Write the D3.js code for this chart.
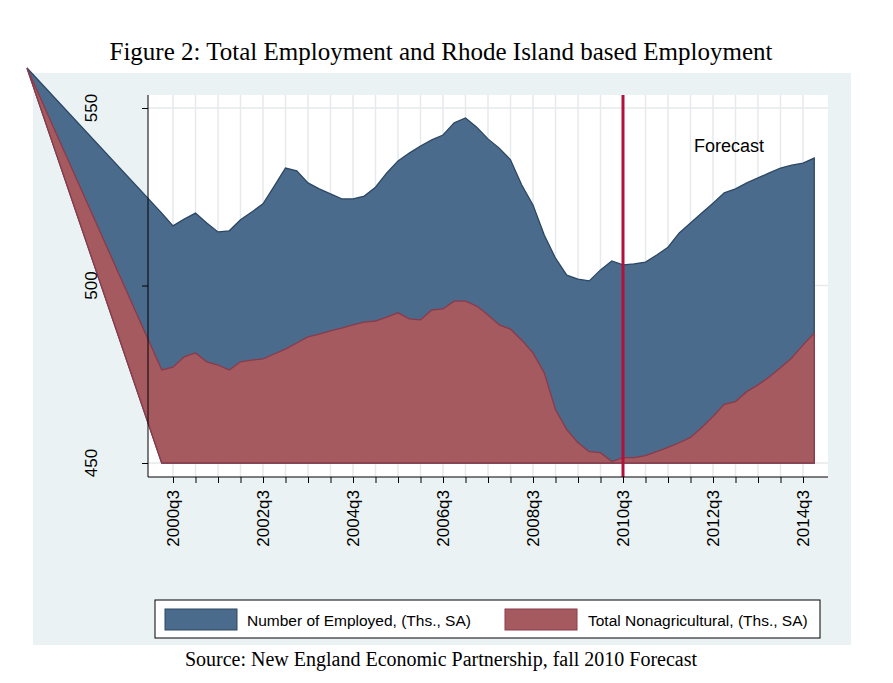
<!DOCTYPE html>
<html><head><meta charset="utf-8">
<script src="https://cdn.jsdelivr.net/npm/d3@7"></script>
<style>body{margin:0;background:#fff}</style></head>
<body><svg id="c" width="893" height="683"></svg>
<script>
const startYear = 2000, startQ = 2;
const employed = [520.4,516.8,518.7,520.4,517.6,515.1,515.4,518.5,520.7,523.0,528.0,533.1,532.3,528.9,527.2,525.8,524.4,524.4,525.2,527.7,531.7,535.1,537.3,539.3,541.0,542.4,545.8,547.2,544.6,541.3,538.7,535.4,528.3,522.7,514.2,507.7,502.9,501.8,501.3,504.4,506.9,505.8,506.1,506.6,508.6,510.8,514.8,517.6,520.4,523.2,526.1,527.2,528.9,530.3,531.7,533.1,533.9,534.5,535.9];
const nonag = [476.2,477.0,479.9,481.0,478.5,477.6,476.2,478.5,479.0,479.3,480.7,482.1,483.8,485.5,486.3,487.2,488.0,488.9,489.7,490.0,491.1,492.3,490.6,490.3,493.1,493.4,495.6,495.6,494.2,491.7,488.9,487.7,484.6,481.0,475.4,465.0,459.4,455.7,453.2,452.9,450.4,451.5,451.5,452.1,453.2,454.4,455.7,457.2,460.0,463.1,466.5,467.3,470.1,472.0,474.2,476.8,479.6,483.2,486.6];
const yTicks = [450,500,550];
const xTickLabels = ["2000q3","2002q3","2004q3","2006q3","2008q3","2010q3","2012q3","2014q3"];
const forecastAt = "2010q3";

const t = i => startYear*4 + (startQ-1) + i; // quarter index
const parseQ = s => (+s.slice(0,4))*4 + (+s.slice(5)-1);
const svg = d3.select("#c");
svg.append("rect").attr("x",33).attr("y",73).attr("width",818).attr("height",572).attr("fill","#eaf2f3");
const L=148,R=828,T=95,B=477;
svg.append("rect").attr("x",L).attr("y",T).attr("width",R-L).attr("height",B-T).attr("fill","#fff");
const x = d3.scaleLinear().domain([parseQ("2000q3"),parseQ("2010q3")]).range([173,623]);
const y = d3.scaleLinear().domain([450,550]).range([463,108]);
// grid
const gridQ = d3.range(parseQ("2000q3"), parseQ("2014q4")+1, 2);
svg.append("g").selectAll("line").data(gridQ).join("line")
 .attr("x1",d=>x(d)).attr("x2",d=>x(d)).attr("y1",T).attr("y2",B).attr("stroke","#e6eaea").attr("stroke-width",1.5);
svg.append("g").selectAll("line").data(yTicks).join("line")
 .attr("x1",L).attr("x2",R).attr("y1",d=>y(d)).attr("y2",d=>y(d)).attr("stroke","#e6eaea").attr("stroke-width",1.5);
// areas with corner artifact
const corner=[27,68];
function areaPath(vals){
  const pts = vals.map((v,i)=>[x(t(i)),y(v)]);
  const n=vals.length;
  let p = "M"+corner+"L"+pts.map(q=>q.join(",")).join("L");
  p += "L"+x(t(n-1))+","+y(450)+"L"+x(t(0))+","+y(450)+"Z";
  return p;
}
svg.append("path").attr("d",areaPath(employed)).attr("fill","#4a6b8c").attr("stroke","#2c4763").attr("stroke-width",1.3);
svg.append("path").attr("d",areaPath(nonag)).attr("fill","#a55a60").attr("stroke","#8c3a4a").attr("stroke-width",1.3);
// forecast line
svg.append("line").attr("x1",x(parseQ(forecastAt))).attr("x2",x(parseQ(forecastAt))).attr("y1",T).attr("y2",B).attr("stroke","#b3103c").attr("stroke-width",3);
svg.append("text").attr("x",694).attr("y",152).attr("font-family","Liberation Sans, Arial").attr("font-size",18).text("Forecast");
// axes
svg.append("g").attr("transform",`translate(${L},0)`).call(d3.axisLeft(y).tickValues(yTicks).tickSize(6).tickFormat(""))
  .call(g=>{g.select(".domain").attr("d",`M0,${T}V${B}`);});
yTicks.forEach(v=>svg.append("text").attr("transform",`translate(97,${y(v)}) rotate(-90)`).attr("text-anchor","middle")
  .attr("font-family","Liberation Sans, Arial").attr("font-size",17).text(v));
svg.append("g").attr("transform",`translate(0,${B})`).call(d3.axisBottom(x).tickValues(gridQ).tickSize(6).tickFormat(""))
  .call(g=>{g.select(".domain").attr("d",`M${L},0H${R}`);});
xTickLabels.forEach(s=>svg.append("text").attr("transform",`translate(${x(parseQ(s))+6},490) rotate(-90)`).attr("text-anchor","end")
  .attr("font-family","Liberation Sans, Arial").attr("font-size",17).text(s));
// legend
svg.append("rect").attr("x",155).attr("y",600).attr("width",665).attr("height",38).attr("fill","#fff").attr("stroke","#000");
svg.append("rect").attr("x",165).attr("y",609).attr("width",72).attr("height",21).attr("fill","#4a6b8c").attr("stroke","#2c4763");
svg.append("text").attr("x",247).attr("y",626).attr("font-family","Liberation Sans, Arial").attr("font-size",15.5).text("Number of Employed, (Ths., SA)");
svg.append("rect").attr("x",505).attr("y",609).attr("width",72).attr("height",21).attr("fill","#a55a60").attr("stroke","#8c3a4a");
svg.append("text").attr("x",588).attr("y",626).attr("font-family","Liberation Sans, Arial").attr("font-size",15.5).text("Total Nonagricultural, (Ths., SA)");
// titles
svg.append("text").attr("x",441).attr("y",60).attr("text-anchor","middle").attr("font-family","Liberation Serif, Times New Roman").attr("font-size",25).text("Figure 2: Total Employment and Rhode Island based Employment");
svg.append("text").attr("x",441).attr("y",666).attr("text-anchor","middle").attr("font-family","Liberation Serif, Times New Roman").attr("font-size",20).text("Source: New England Economic Partnership, fall 2010 Forecast");
</script></body></html>
